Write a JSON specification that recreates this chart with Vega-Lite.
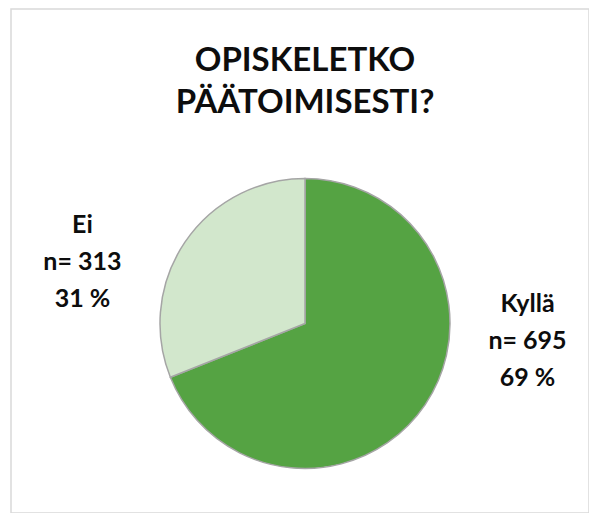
{
  "$schema": "https://vega.github.io/schema/vega-lite/v6.json",
  "width": 578,
  "height": 504,
  "autosize": "none",
  "padding": {"left": 11, "top": 9, "right": 0, "bottom": 0},
  "background": "white",
  "view": {"stroke": "#d9d9d9", "strokeWidth": 1.5},
  "config": {"view": {"stroke": "#d9d9d9", "strokeWidth": 1.5}},
  "title": {
    "text": ["OPISKELETKO", "PÄÄTOIMISESTI?"],
    "font": "Lato",
    "fontSize": 33,
    "fontWeight": "bold",
    "color": "#0d0d0d",
    "anchor": "middle",
    "baseline": "alphabetic",
    "offset": -137,
    "lineHeight": 42,
    "dx": 5
  },
  "data": {
    "values": [
      {"vastaus": "Kyllä", "n": 695, "osuus": 69},
      {"vastaus": "Ei", "n": 313, "osuus": 31}
    ]
  },
  "layer": [
    {
      "mark": {
        "type": "arc",
        "outerRadius": 145,
        "x": {"expr": "width/2 + 5"},
        "y": {"expr": "height*0.624"},
        "stroke": "#a5a5a5",
        "strokeWidth": 1.5
      },
      "encoding": {
        "theta": {"field": "n", "type": "quantitative", "stack": true},
        "order": {"field": "n", "type": "quantitative", "sort": "descending"},
        "color": {
          "field": "vastaus",
          "type": "nominal",
          "scale": {"domain": ["Kyllä", "Ei"], "range": ["#55a343", "#d2e7cc"]},
          "legend": null
        }
      }
    },
    {
      "transform": [
        {"calculate": "datum.vastaus + '\\n' + 'n= ' + datum.n + '\\n' + datum.osuus + ' %'", "as": "nimi"}
      ],
      "mark": {
        "type": "text",
        "radius": 226,
        "dy": -59,
        "x": {"expr": "width/2 + 5"},
        "y": {"expr": "height*0.624"},
        "align": "center",
        "baseline": "middle",
        "lineBreak": "\n",
        "font": "Lato",
        "fontSize": 25,
        "fontWeight": "bold",
        "lineHeight": 37,
        "color": "#0d0d0d"
      },
      "encoding": {
        "theta": {"field": "n", "type": "quantitative", "stack": true, "scale": {"range": [-0.42, 5.863]}},
        "order": {"field": "n", "type": "quantitative", "sort": "descending"},
        "text": {"field": "nimi", "type": "nominal"}
      }
    }
  ],
  "resolve": {"scale": {"theta": "independent"}}
}
